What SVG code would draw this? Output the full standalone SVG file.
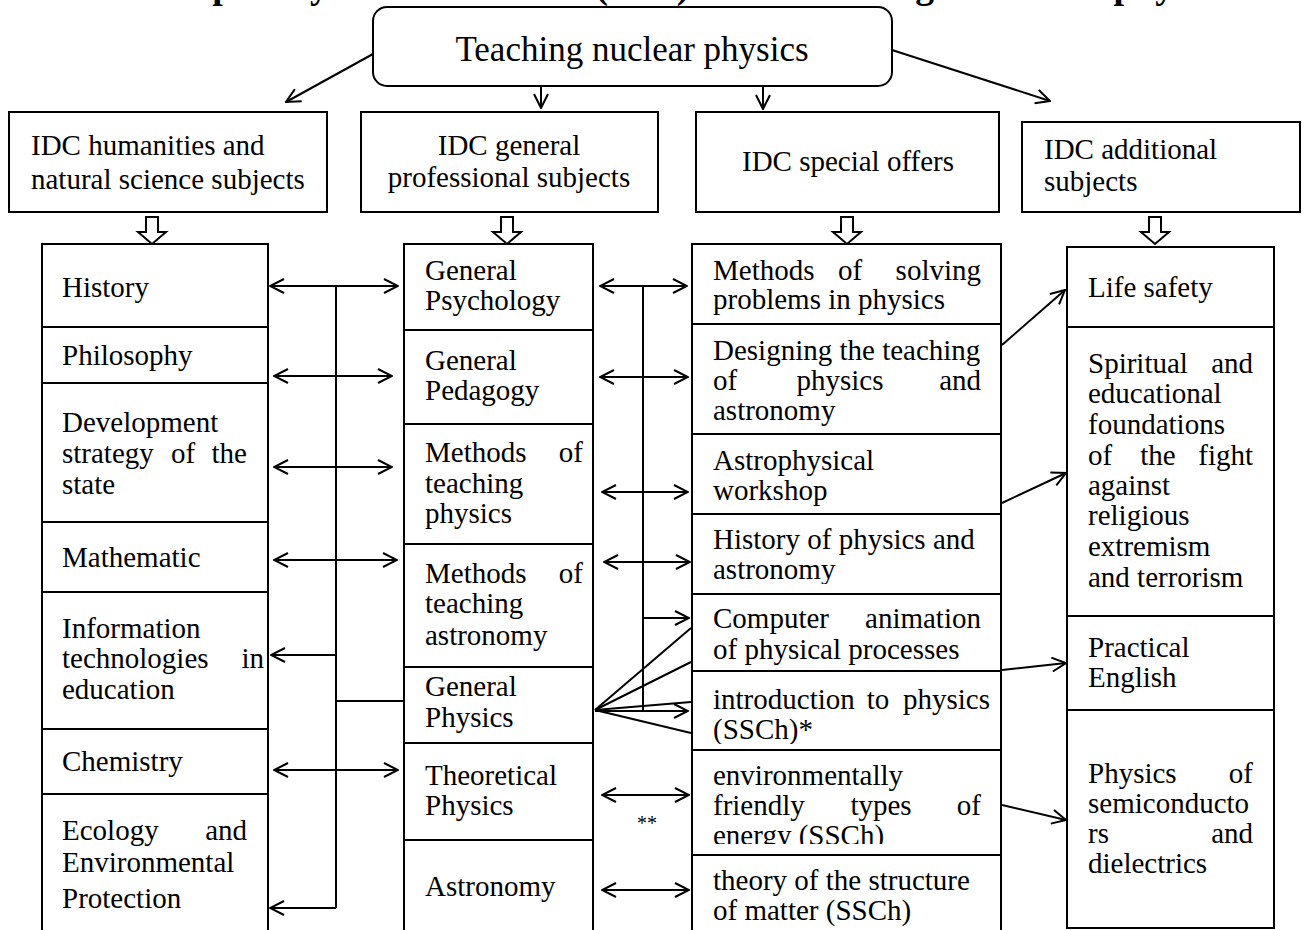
<svg xmlns="http://www.w3.org/2000/svg" width="1304" height="930" viewBox="0 0 1304 930">
<style>
.t{font-family:"Liberation Serif","Times New Roman",serif;font-size:29px;fill:#000}
.e{text-anchor:end}
.m{text-anchor:middle}
.box{fill:#fff;stroke:#000;stroke-width:2}
.ln{fill:none;stroke:#000;stroke-width:2}
.arr{marker-end:url(#ah)}
.dbl{marker-start:url(#ah);marker-end:url(#ah)}
.blk{fill:#fff;stroke:#000;stroke-width:2;stroke-linejoin:miter}
</style>
<defs>
<marker id="ah" viewBox="0 0 16 16" refX="15" refY="8" markerWidth="16" markerHeight="16" markerUnits="userSpaceOnUse" orient="auto-start-reverse">
<path d="M1,1 L15,8 L1,15" fill="none" stroke="#000" stroke-width="2"/>
</marker>
<clipPath id="c-hist"><rect x="692" y="514" width="310" height="70"/></clipPath>
<clipPath id="c-intro"><rect x="692" y="671" width="310" height="73"/></clipPath>
<clipPath id="c-env"><rect x="692" y="750" width="310" height="94"/></clipPath>
</defs>
<rect width="1304" height="930" fill="#fff"/>

<text x="58" y="-2" style="font-family:'Liberation Serif','Times New Roman',serif;font-weight:bold;font-size:37.5px">Interdisciplinary communication (IDC) in the teaching of nuclear physics.</text>

<g id="connectors">
<line class="ln arr" x1="373" y1="54" x2="286" y2="102"/>
<line class="ln arr" x1="541" y1="86" x2="541" y2="108"/>
<line class="ln arr" x1="763" y1="86" x2="763" y2="109"/>
<line class="ln arr" x1="892" y1="50" x2="1050" y2="101"/>
<path class="blk" d="M146,217 h12 v15 h8 l-14,12 l-14,-12 h8 z"/>
<path class="blk" d="M501,217 h12 v15 h8 l-14,12 l-14,-12 h8 z"/>
<path class="blk" d="M841,217 h12 v15 h8 l-14,12 l-14,-12 h8 z"/>
<path class="blk" d="M1149,217 h12 v15 h8 l-14,12 l-14,-12 h8 z"/>
<!-- bus 1 -->
<path class="ln" d="M336,286 V908"/>
<line class="ln dbl" x1="270" y1="286" x2="398" y2="286"/>
<line class="ln dbl" x1="274" y1="376" x2="392" y2="376"/>
<line class="ln dbl" x1="274" y1="467" x2="392" y2="467"/>
<line class="ln dbl" x1="274" y1="560" x2="397" y2="560"/>
<line class="ln arr" x1="336" y1="655" x2="271" y2="655"/>
<line class="ln" x1="336" y1="701" x2="404" y2="701"/>
<line class="ln dbl" x1="274" y1="770" x2="398" y2="770"/>
<line class="ln arr" x1="336" y1="908" x2="270" y2="908"/>
<!-- bus 2 -->
<path class="ln" d="M643,286 V711"/>
<line class="ln dbl" x1="600" y1="286" x2="687" y2="286"/>
<line class="ln dbl" x1="600" y1="377" x2="688" y2="377"/>
<line class="ln dbl" x1="602" y1="492" x2="688" y2="492"/>
<line class="ln dbl" x1="604" y1="562" x2="690" y2="562"/>
<line class="ln arr" x1="643" y1="618" x2="689" y2="618"/>
<line class="ln" x1="595" y1="710" x2="691" y2="628"/>
<line class="ln" x1="595" y1="710" x2="691" y2="662"/>
<line class="ln" x1="595" y1="710" x2="691" y2="702"/>
<line class="ln" x1="595" y1="710" x2="691" y2="733"/>
<line class="ln arr" x1="595" y1="711" x2="688" y2="711"/>
<line class="ln dbl" x1="602" y1="795" x2="689" y2="795"/>
<text class="t m" x="647" y="830" style="font-size:20px">**</text>
<line class="ln dbl" x1="602" y1="890" x2="689" y2="890"/>
<!-- col3 to col4 -->
<line class="ln arr" x1="1002" y1="345" x2="1065" y2="290"/>
<line class="ln arr" x1="1002" y1="503" x2="1066" y2="473"/>
<line class="ln arr" x1="1002" y1="670" x2="1066" y2="663"/>
<line class="ln arr" x1="1002" y1="805" x2="1066" y2="820"/>
</g>

<g id="n-top">
<rect class="box" x="373" y="7" width="519" height="79" rx="14"/>
<text class="t m" x="632" y="61" style="font-size:35px">Teaching nuclear physics</text>
</g>

<g id="n-idc-hum">
<rect class="box" x="9" y="112" width="318" height="100"/>
<text class="t" x="31" y="155">IDC humanities and</text>
<text class="t" x="31" y="189">natural science subjects</text>
</g>
<g id="n-idc-gen">
<rect class="box" x="361" y="112" width="297" height="100"/>
<text class="t m" x="509" y="155">IDC general</text>
<text class="t m" x="509" y="187">professional subjects</text>
</g>
<g id="n-idc-spec">
<rect class="box" x="696" y="112" width="303" height="100"/>
<text class="t m" x="848" y="171">IDC special offers</text>
</g>
<g id="n-idc-add">
<rect class="box" x="1022" y="122" width="278" height="90"/>
<text class="t" x="1044" y="159">IDC additional</text>
<text class="t" x="1044" y="191">subjects</text>
</g>

<!-- column 1 -->
<g id="n-history"><rect class="box" x="42" y="244" width="226" height="83"/>
<text class="t" x="62" y="297">History</text></g>
<g id="n-philosophy"><rect class="box" x="42" y="327" width="226" height="56"/>
<text class="t" x="62" y="365">Philosophy</text></g>
<g id="n-development"><rect class="box" x="42" y="383" width="226" height="139"/>
<text class="t" x="62" y="432">Development</text>
<text class="t" x="62" y="463">strategy</text><text class="t m" x="183" y="463">of</text><text class="t e" x="247" y="463">the</text>
<text class="t" x="62" y="494">state</text></g>
<g id="n-mathematic"><rect class="box" x="42" y="522" width="226" height="70"/>
<text class="t" x="62" y="567">Mathematic</text></g>
<g id="n-infotech"><rect class="box" x="42" y="592" width="226" height="137"/>
<text class="t" x="62" y="638">Information</text>
<text class="t" x="62" y="668">technologies</text><text class="t e" x="264" y="668">in</text>
<text class="t" x="62" y="699">education</text></g>
<g id="n-chemistry"><rect class="box" x="42" y="729" width="226" height="65"/>
<text class="t" x="62" y="771">Chemistry</text></g>
<g id="n-ecology"><rect class="box" x="42" y="794" width="226" height="150"/>
<text class="t" x="62" y="840">Ecology</text><text class="t e" x="247" y="840">and</text>
<text class="t" x="62" y="872">Environmental</text>
<text class="t" x="62" y="908">Protection</text></g>

<!-- column 2 -->
<g id="n-psych"><rect class="box" x="404" y="244" width="189" height="86"/>
<text class="t" x="425" y="280">General</text>
<text class="t" x="425" y="310">Psychology</text></g>
<g id="n-pedag"><rect class="box" x="404" y="330" width="189" height="94"/>
<text class="t" x="425" y="370">General</text>
<text class="t" x="425" y="400">Pedagogy</text></g>
<g id="n-mtphys"><rect class="box" x="404" y="424" width="189" height="120"/>
<text class="t" x="425" y="462">Methods</text><text class="t e" x="583" y="462">of</text>
<text class="t" x="425" y="493">teaching</text>
<text class="t" x="425" y="523">physics</text></g>
<g id="n-mtastro"><rect class="box" x="404" y="544" width="189" height="123"/>
<text class="t" x="425" y="583">Methods</text><text class="t e" x="583" y="583">of</text>
<text class="t" x="425" y="613">teaching</text>
<text class="t" x="425" y="645">astronomy</text></g>
<g id="n-genphys"><rect class="box" x="404" y="667" width="189" height="76"/>
<text class="t" x="425" y="696">General</text>
<text class="t" x="425" y="727">Physics</text></g>
<g id="n-theor"><rect class="box" x="404" y="743" width="189" height="97"/>
<text class="t" x="425" y="785">Theoretical</text>
<text class="t" x="425" y="815">Physics</text></g>
<g id="n-astronomy"><rect class="box" x="404" y="840" width="189" height="104"/>
<text class="t" x="425" y="896">Astronomy</text></g>

<!-- column 3 -->
<g id="n-solving"><rect class="box" x="692" y="244" width="309" height="80"/>
<text class="t" x="713" y="280">Methods</text><text class="t m" x="850" y="280">of</text><text class="t e" x="981" y="280">solving</text>
<text class="t" x="713" y="309">problems in physics</text></g>
<g id="n-designing"><rect class="box" x="692" y="324" width="309" height="110"/>
<text class="t" x="713" y="360">Designing the teaching</text>
<text class="t" x="713" y="390">of</text><text class="t m" x="840" y="390">physics</text><text class="t e" x="981" y="390">and</text>
<text class="t" x="713" y="420">astronomy</text></g>
<g id="n-astroworkshop"><rect class="box" x="692" y="434" width="309" height="80"/>
<text class="t" x="713" y="470">Astrophysical</text>
<text class="t" x="713" y="500">workshop</text></g>
<g id="n-histphys"><rect class="box" x="692" y="514" width="309" height="80"/>
<g clip-path="url(#c-hist)">
<text class="t" x="713" y="549">History of physics and</text>
<text class="t" x="713" y="579">astronomy</text></g></g>
<g id="n-computer"><rect class="box" x="692" y="594" width="309" height="77"/>
<text class="t" x="713" y="628">Computer</text><text class="t e" x="981" y="628">animation</text>
<text class="t" x="713" y="659">of physical processes</text></g>
<g id="n-intro"><rect class="box" x="692" y="671" width="309" height="79"/>
<g clip-path="url(#c-intro)">
<text class="t" x="713" y="709">introduction</text><text class="t m" x="878" y="709">to</text><text class="t e" x="990" y="709">physics</text>
<text class="t" x="713" y="739">(SSCh)*</text></g></g>
<g id="n-env"><rect class="box" x="692" y="750" width="309" height="105"/>
<g clip-path="url(#c-env)">
<text class="t" x="713" y="785">environmentally</text>
<text class="t" x="713" y="815">friendly</text><text class="t m" x="881" y="815">types</text><text class="t e" x="981" y="815">of</text>
<text class="t" x="713" y="845">energy (SSCh)</text></g></g>
<g id="n-theory"><rect class="box" x="692" y="855" width="309" height="90"/>
<text class="t" x="713" y="890">theory of the structure</text>
<text class="t" x="713" y="920">of matter (SSCh)</text></g>

<!-- column 4 -->
<g id="n-lifesafety"><rect class="box" x="1067" y="247" width="207" height="80"/>
<text class="t" x="1088" y="297">Life safety</text></g>
<g id="n-spiritual"><rect class="box" x="1067" y="327" width="207" height="289"/>
<text class="t" x="1088" y="373">Spiritual</text><text class="t e" x="1253" y="373">and</text>
<text class="t" x="1088" y="403">educational</text>
<text class="t" x="1088" y="434">foundations</text>
<text class="t" x="1088" y="465">of</text><text class="t m" x="1158" y="465">the</text><text class="t e" x="1253" y="465">fight</text>
<text class="t" x="1088" y="495">against</text>
<text class="t" x="1088" y="525">religious</text>
<text class="t" x="1088" y="556">extremism</text>
<text class="t" x="1088" y="587">and terrorism</text></g>
<g id="n-english"><rect class="box" x="1067" y="616" width="207" height="94"/>
<text class="t" x="1088" y="657">Practical</text>
<text class="t" x="1088" y="687">English</text></g>
<g id="n-semicond"><rect class="box" x="1067" y="710" width="207" height="218"/>
<text class="t" x="1088" y="783">Physics</text><text class="t e" x="1253" y="783">of</text>
<text class="t" x="1088" y="813">semiconducto</text>
<text class="t" x="1088" y="843">rs</text><text class="t e" x="1253" y="843">and</text>
<text class="t" x="1088" y="873">dielectrics</text></g>
</svg>
